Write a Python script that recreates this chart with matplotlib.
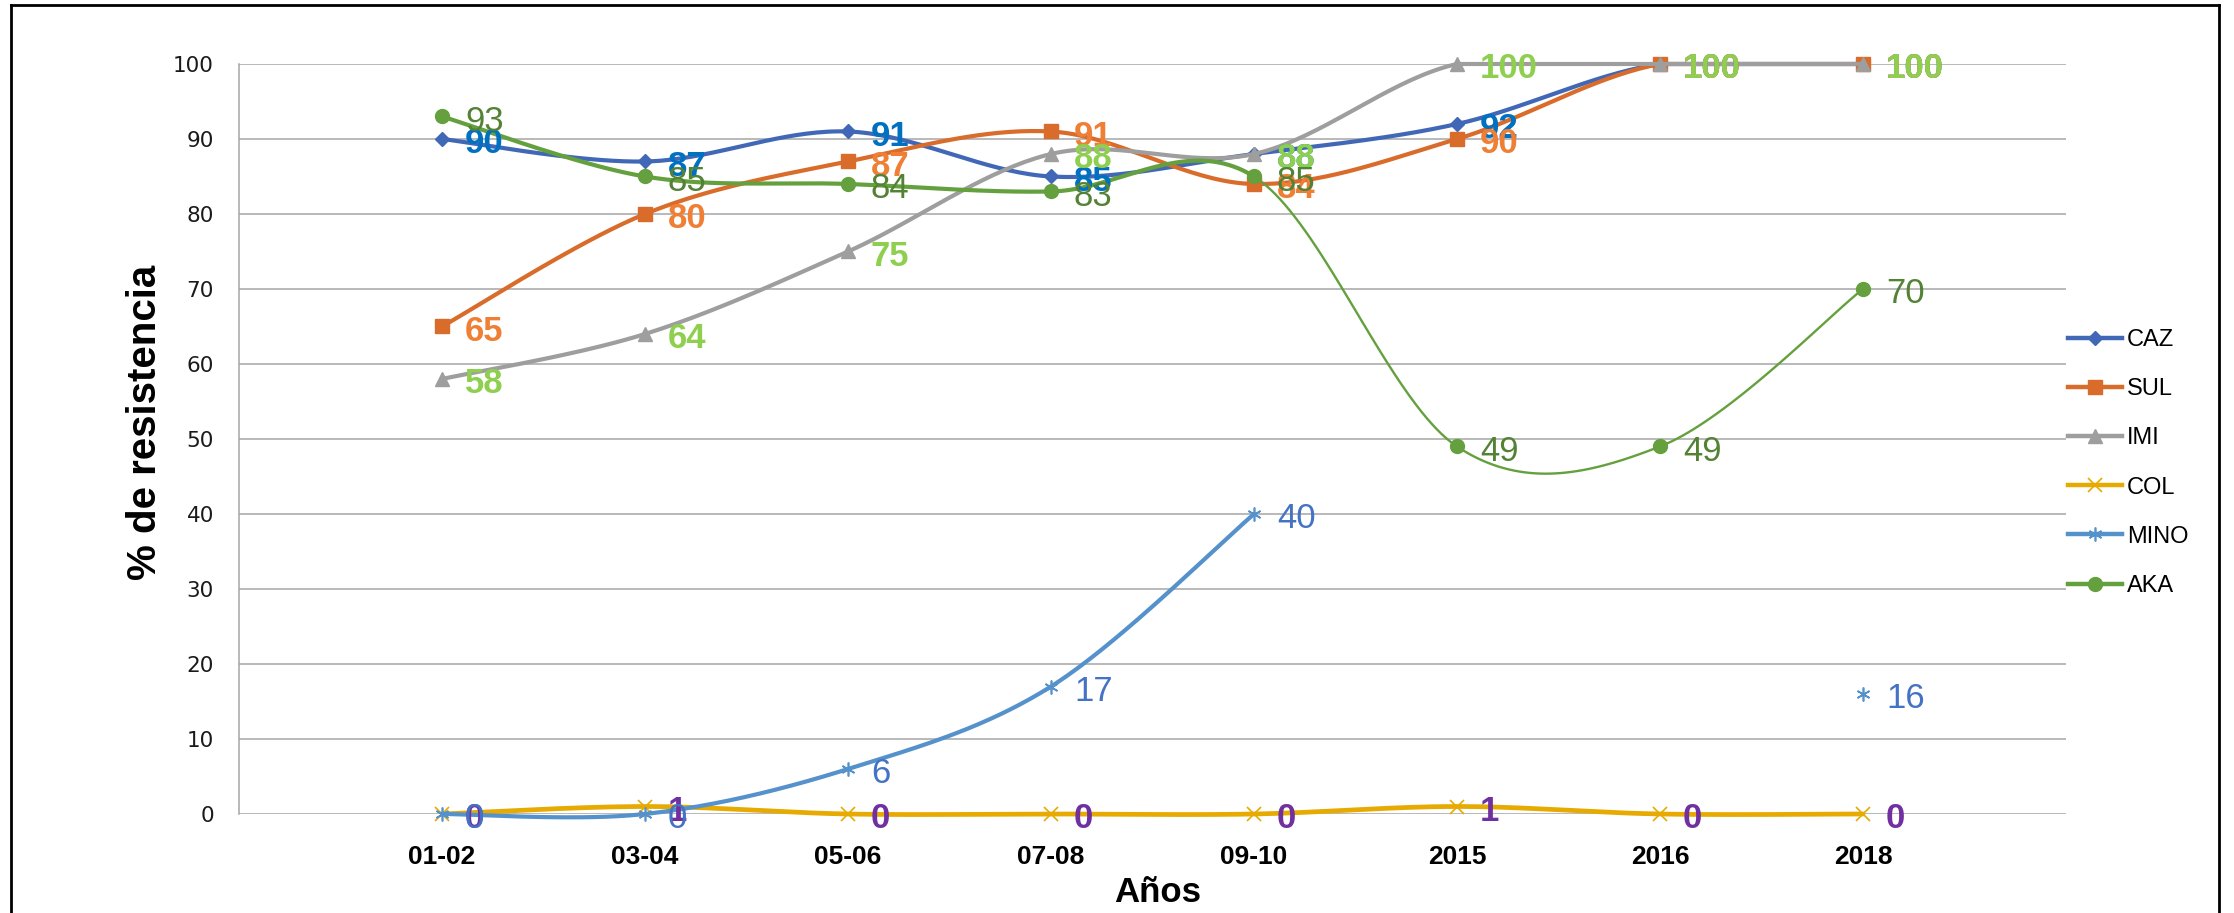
import numpy as np
import matplotlib
matplotlib.use("Agg")
import matplotlib.pyplot as plt
from matplotlib.lines import Line2D

plt.rcParams["font.family"] = ["Liberation Sans", "DejaVu Sans"]

# ---- data -------------------------------------------------------------
years = ["01-02", "03-04", "05-06", "07-08", "09-10", "2015", "2016", "2018"]
caz = [90, 87, 91, 85, 88, 92, 100, 100]
sul = [65, 80, 87, 91, 84, 90, 100, 100]
imi = [58, 64, 75, 88, 88, 100, 100, 100]
col = [0, 1, 0, 0, 0, 1, 0, 0]
mino = [0, 0, 6, 17, 40, None, None, 16]
aka = [93, 85, 84, 83, 85, 49, 49, 70]
series_names = ["CAZ", "SUL", "IMI", "COL", "MINO", "AKA"]
y_ticks = [0, 10, 20, 30, 40, 50, 60, 70, 80, 90, 100]
Y_MAX = 100

# ---- styles -----------------------------------------------------------
styles = {
    "CAZ":  dict(color="#4168B6", marker="D", ms=7.5, lw=3.0, mew=1, label_color="#0070C0", bold=True),
    "SUL":  dict(color="#D96B2B", marker="s", ms=10, lw=3.0, mew=1, label_color="#EE7F35", bold=True),
    "IMI":  dict(color="#9E9E9E", marker="^", ms=10.5, lw=3.0, mew=1, label_color="#8FCF4F", bold=True),
    "COL":  dict(color="#E6AA00", marker="x", ms=10, lw=3.4, mew=1.2, label_color="#7030A0", bold=True),
    "MINO": dict(color="#5592CB", marker=(6, 2, 0), ms=10, lw=3.0, mew=1.2, label_color="#4472C4", bold=False),
    "AKA":  dict(color="#64A03D", marker="o", ms=10, lw=3.0, mew=1, label_color="#548235", bold=False),
}


def smooth(xs, ys, n=40):
    """Bezier-smoothed path through consecutive points (Catmull-Rom tangents)."""
    pts = np.column_stack([xs, ys]).astype(float)
    out = [pts[:1]]
    t = np.linspace(0, 1, n)[1:, None]
    for i in range(len(pts) - 1):
        p0 = pts[i - 1] if i > 0 else pts[i]
        p1, p2 = pts[i], pts[i + 1]
        p3 = pts[i + 2] if i + 2 < len(pts) else pts[i + 1]
        c1 = p1 + (p2 - p0) / 6.0
        c2 = p2 - (p3 - p1) / 6.0
        seg = (1 - t) ** 3 * p1 + 3 * (1 - t) ** 2 * t * c1 + 3 * (1 - t) * t ** 2 * c2 + t ** 3 * p2
        out.append(seg)
    path = np.vstack(out)
    # the curve never rises above the top of the value axis
    path[:, 1] = np.minimum(path[:, 1], Y_MAX)
    return path


def runs(values):
    """Split a series into runs of consecutive non-missing points."""
    groups, cur = [], []
    for i, v in enumerate(values):
        if v is None:
            if cur:
                groups.append(cur)
            cur = []
        else:
            cur.append(i)
    if cur:
        groups.append(cur)
    return groups


W, H = 2234, 913
fig = plt.figure(figsize=(W / 100, H / 100), dpi=100)
ax_left, ax_right, ax_top, ax_bottom = 239, 2066, 64, 814
ax = fig.add_axes([ax_left / W, 1 - ax_bottom / H, (ax_right - ax_left) / W, (ax_bottom - ax_top) / H])

data = {"CAZ": caz, "SUL": sul, "IMI": imi, "COL": col, "MINO": mino, "AKA": aka}
x = np.arange(len(years))

for k, name in enumerate(series_names):
    vals = data[name]
    st = styles[name]
    z = 3 + k
    for grp in runs(vals):
        gx = x[grp]
        gy = np.array([vals[i] for i in grp], dtype=float)
        if len(grp) > 1:
            path = smooth(gx, gy)
            if name == "AKA":
                split = 4
                thick = path[path[:, 0] <= split]
                thin = path[path[:, 0] >= split]
                ax.plot(thick[:, 0], thick[:, 1], color=st["color"], lw=st["lw"],
                        solid_capstyle="round", zorder=z, clip_on=False)
                ax.plot(thin[:, 0], thin[:, 1], color=st["color"], lw=1.7,
                        solid_capstyle="round", zorder=z, clip_on=False)
            else:
                ax.plot(path[:, 0], path[:, 1], color=st["color"], lw=st["lw"],
                        solid_capstyle="round", zorder=z, clip_on=False)
        ax.plot(gx, gy, linestyle="none", marker=st["marker"], ms=st["ms"],
                color=st["color"], mec=st["color"], mew=st["mew"], zorder=z + 0.5, clip_on=False)

# value labels, right of each point
for k, name in enumerate(series_names):
    vals = data[name]
    st = styles[name]
    for i, v in enumerate(vals):
        if v is None:
            continue
        ax.annotate(f"{v}", (x[i], v), xytext=(16.5, -10.2), textcoords="offset points",
                    ha="left", va="baseline", fontsize=25,
                    fontweight="bold" if st["bold"] else "normal",
                    color=st["label_color"], zorder=20 + k, annotation_clip=False)

ax.set_xlim(-1, len(years))
ax.set_ylim(0, Y_MAX)
ax.set_xticks(x)
ax.set_xticklabels(years, fontsize=19, fontweight="bold")
ax.set_yticks(y_ticks)
ax.set_yticklabels([str(t) for t in y_ticks], fontsize=15.5, color="#1a1a1a", family="DejaVu Sans")
ax.tick_params(axis="x", length=0, pad=22)
ax.tick_params(axis="y", length=0, pad=18)
ax.yaxis.grid(True, color="#A6A6A6", lw=1.1)
ax.set_axisbelow(True)
for s in ["top", "right", "bottom"]:
    ax.spines[s].set_visible(False)
ax.spines["left"].set_color("#A6A6A6")
ax.spines["left"].set_linewidth(1.1)

fig.text(145 / W, 1 - 422 / H, "% de resistencia", rotation=90, ha="center", va="center",
         fontsize=29, fontweight="bold")
fig.text(1158 / W, 1 - 902 / H, "Años", ha="center", va="baseline", fontsize=25, fontweight="bold")

handles = []
for name in series_names:
    st = styles[name]
    handles.append(Line2D([], [], color=st["color"], lw=3.2, marker=st["marker"],
                          ms=st["ms"], mec=st["color"], mew=st["mew"]))
fig.legend(handles, series_names, loc="center left", bbox_to_anchor=(2068 / W, 1 - 463 / H),
           frameon=False, fontsize=17, handlelength=2.3, handletextpad=0.2,
           labelspacing=1.15, borderpad=0, borderaxespad=0, numpoints=1)

# outer frame
for (x0, y0, x1, y1) in [(11, 5, 11, H + 10), (11, 5, 2219, 5), (2219, 5, 2219, H + 10)]:
    fig.add_artist(Line2D([x0 / W, x1 / W], [1 - y0 / H, 1 - y1 / H], color="black",
                          lw=2.0, transform=fig.transFigure))

fig.savefig("out.png", dpi=100)
